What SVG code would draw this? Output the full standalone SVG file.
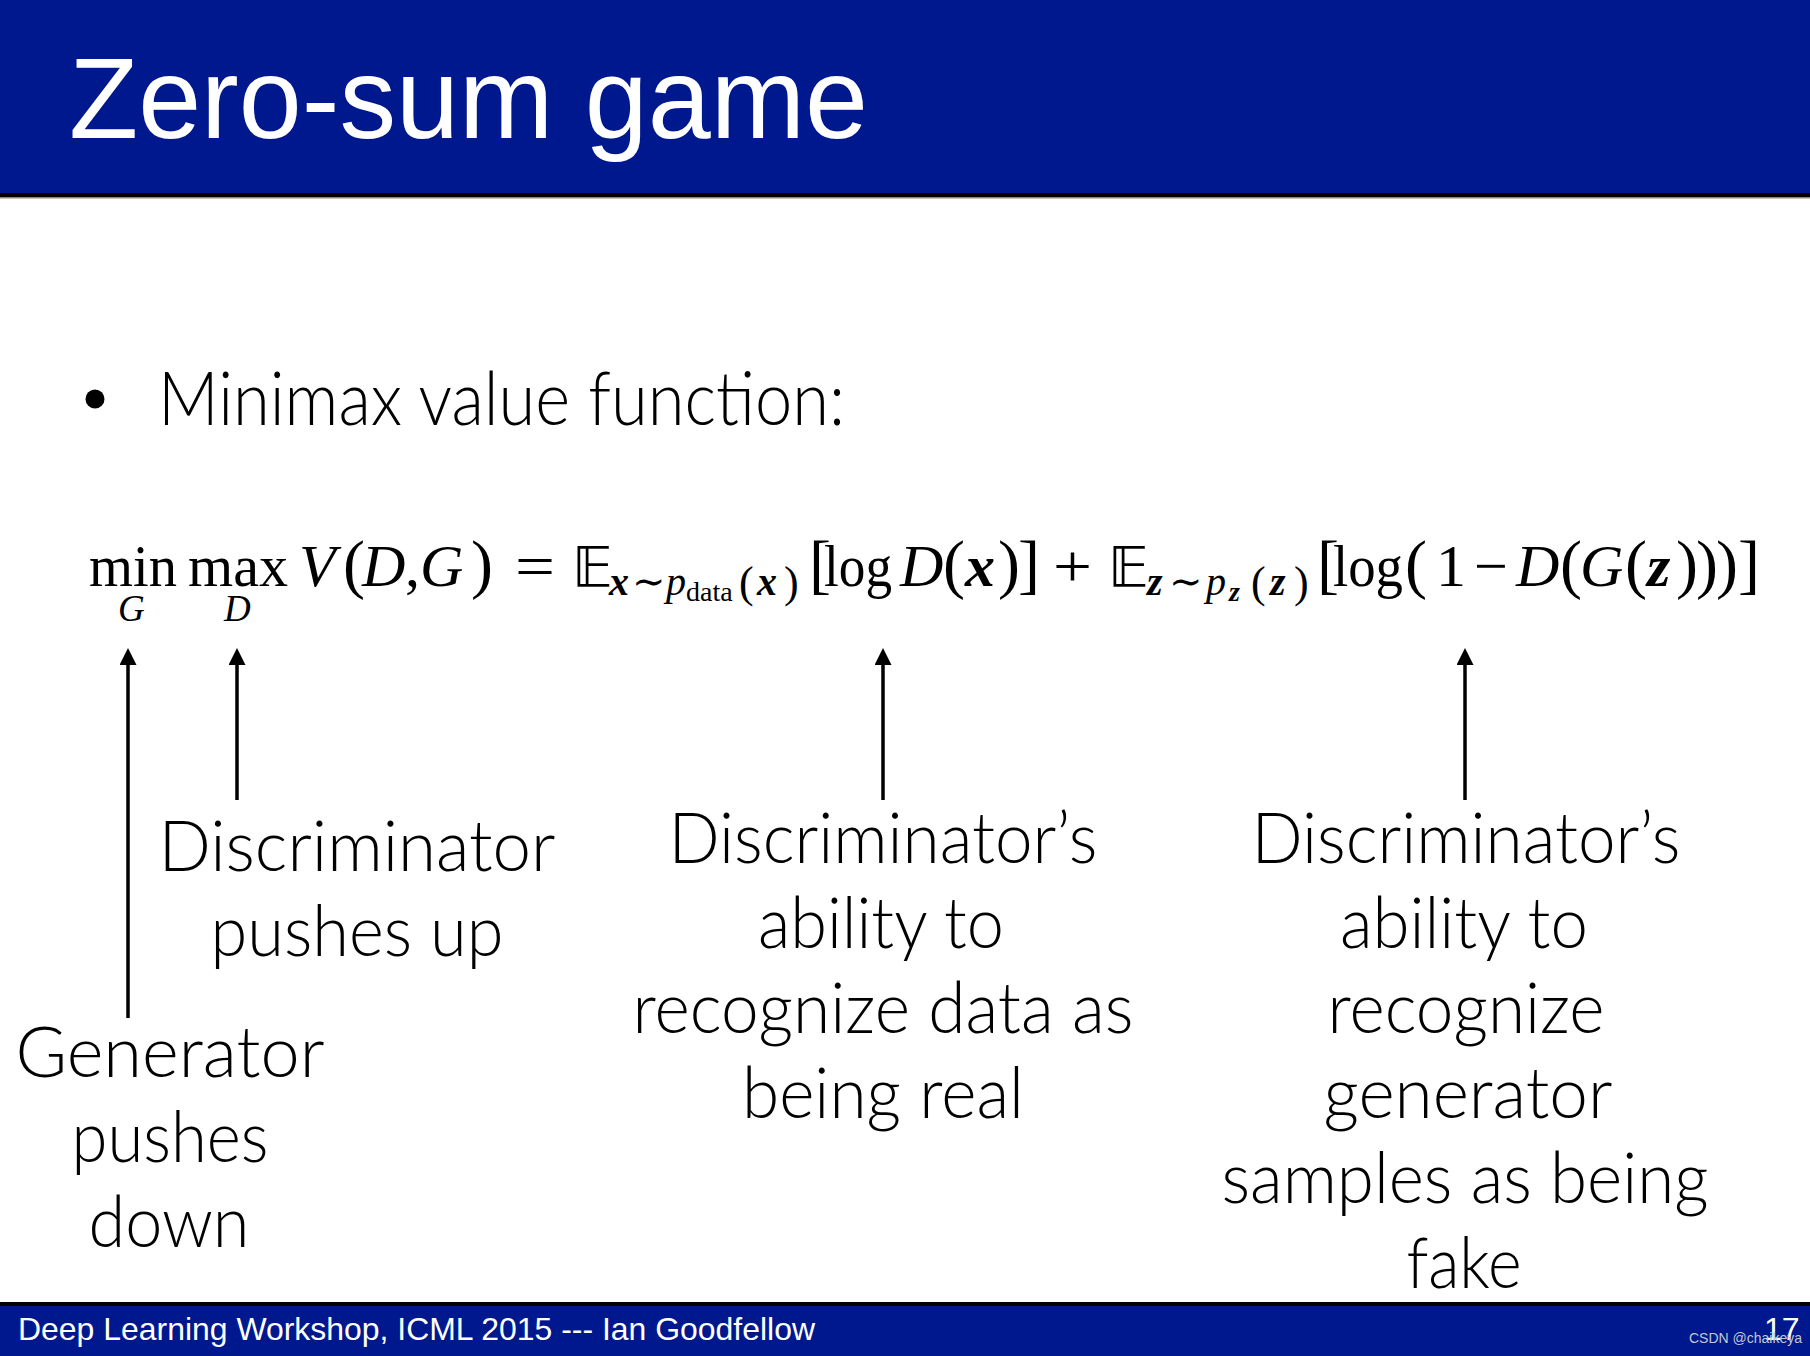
<svg xmlns="http://www.w3.org/2000/svg" width="1810" height="1356" viewBox="0 0 1810 1356">
<defs>
<style>
.bar{fill:#00188e}
.title{font-family:"Liberation Sans",Arial,sans-serif;fill:#fff}
.gs{font-family:Lato,"Open Sans",sans-serif;font-weight:300;fill:#000}
.lbl{font-family:Lato,"Open Sans",sans-serif;font-weight:300;font-size:70px;fill:#000;text-anchor:middle}
.m{font-family:"Liberation Serif","DejaVu Serif",serif;font-size:60px;fill:#000}
.p{font-family:"Liberation Serif","DejaVu Serif",serif;font-size:66px;fill:#000}
.s{font-family:"Liberation Serif","DejaVu Serif",serif;font-size:40px;fill:#000}
.u{font-family:"Liberation Serif","DejaVu Serif",serif;font-size:37px;fill:#000;font-style:italic}
.t{font-family:"DejaVu Serif","Liberation Serif",serif;font-size:40px;fill:#000}
.sp{font-family:"Liberation Serif","DejaVu Serif",serif;font-size:44px;fill:#000}
.ss{font-family:"Liberation Serif","DejaVu Serif",serif;font-size:28px;fill:#000}
.i{font-style:italic}
.bi{font-style:italic;font-weight:bold}
.bb{font-family:"DejaVu Sans","DejaVu Serif","Noto Sans",sans-serif;font-size:56px;fill:#000}
.conn line{stroke:#000;stroke-width:3.5;marker-end:url(#ah)}
</style>
<marker id="ah" viewBox="0 0 17 17" markerWidth="17" markerHeight="17" refX="3" refY="8.5" orient="auto" markerUnits="userSpaceOnUse">
<path d="M0,0 L17,8.5 L0,17 Z" fill="#000"/>
</marker>
</defs>
<rect width="1810" height="1356" fill="#fff"/>
<g id="header">
<rect class="bar" x="0" y="0" width="1810" height="194"/>
<rect x="0" y="193" width="1810" height="4" fill="#000"/>
<rect x="0" y="197" width="1810" height="1.5" fill="#888"/>
<text class="title" x="69" y="138" font-size="115" textLength="799" lengthAdjust="spacingAndGlyphs">Zero-sum game</text>
</g>
<g id="footer">
<rect x="0" y="1302" width="1810" height="4" fill="#000"/>
<rect class="bar" x="0" y="1306" width="1810" height="50"/>
<text class="title" x="18" y="1340" font-size="32" textLength="797" lengthAdjust="spacingAndGlyphs">Deep Learning Workshop, ICML 2015 --- Ian Goodfellow</text>
<text class="title" x="1764" y="1340" font-size="32">17</text>
<text x="1689" y="1343" font-family="Liberation Sans,Arial,sans-serif" font-size="14" fill="#c4c7d0">CSDN @chaikeya</text>
</g>
<g id="bullet">
<circle cx="95" cy="399" r="9.5" fill="#000"/>
<text class="gs" x="158" y="425" font-size="74" textLength="687" lengthAdjust="spacingAndGlyphs">Minimax value function:</text>
</g>
<g id="formula">
<text class="m" x="89" y="586" textLength="88" lengthAdjust="spacingAndGlyphs">min</text>
<text class="u" x="118" y="621">G</text>
<text class="m" x="188" y="586" textLength="100" lengthAdjust="spacingAndGlyphs">max</text>
<text class="u" x="224" y="621">D</text>
<text class="m i" x="299" y="586">V</text>
<text class="p" x="343" y="586">(</text>
<text class="m i" x="362" y="586">D</text>
<text class="m" x="405" y="586">,</text>
<text class="m i" x="420" y="586">G</text>
<text class="p" x="471" y="586">)</text>
<text class="m" x="515" y="586" textLength="40" lengthAdjust="spacingAndGlyphs">=</text>
<text class="bb" x="572" y="586">𝔼</text>
<text class="s bi" x="609" y="595">x</text>
<text class="t" x="632" y="595">∼</text>
<text class="s i" x="666" y="595">p</text>
<text class="ss" x="686" y="601">data</text>
<text class="sp" x="739" y="597">(</text>
<text class="s bi" x="757" y="595">x</text>
<text class="sp" x="784" y="597">)</text>
<text class="p" x="809" y="586">[</text>
<text class="m" x="824" y="586" textLength="68" lengthAdjust="spacingAndGlyphs">log</text>
<text class="m i" x="900" y="586">D</text>
<text class="p" x="943" y="586">(</text>
<text class="m bi" x="965" y="586">x</text>
<text class="p" x="998" y="586">)</text>
<text class="p" x="1018" y="586">]</text>
<text class="m" x="1053" y="586" textLength="39" lengthAdjust="spacingAndGlyphs">+</text>
<text class="bb" x="1108" y="586">𝔼</text>
<text class="s bi" x="1147" y="595">z</text>
<text class="t" x="1169" y="595">∼</text>
<text class="s i" x="1206" y="595">p</text>
<text class="ss bi" x="1229" y="601">z</text>
<text class="sp" x="1251" y="597">(</text>
<text class="s bi" x="1270" y="595">z</text>
<text class="sp" x="1294" y="597">)</text>
<text class="p" x="1317" y="586">[</text>
<text class="m" x="1333" y="586" textLength="70" lengthAdjust="spacingAndGlyphs">log</text>
<text class="p" x="1405" y="586">(</text>
<text class="m" x="1436" y="586">1</text>
<text class="m" x="1474" y="586">−</text>
<text class="m i" x="1516" y="586">D</text>
<text class="p" x="1560" y="586">(</text>
<text class="m i" x="1580" y="586">G</text>
<text class="p" x="1625" y="586">(</text>
<text class="m bi" x="1647" y="586">z</text>
<text class="p" x="1676" y="586">)</text>
<text class="p" x="1696" y="586">)</text>
<text class="p" x="1716" y="586">)</text>
<text class="p" x="1738" y="586">]</text>
</g>
<g id="connectors" class="conn">
<line x1="128" y1="1018" x2="128" y2="662"/>
<line x1="237" y1="800" x2="237" y2="662"/>
<line x1="883" y1="800" x2="883" y2="662"/>
<line x1="1465" y1="800" x2="1465" y2="662"/>
</g>
<g id="label-generator">
<text class="lbl" x="170" y="1077" textLength="309" lengthAdjust="spacingAndGlyphs">Generator</text>
<text class="lbl" x="170" y="1162" textLength="197" lengthAdjust="spacingAndGlyphs">pushes</text>
<text class="lbl" x="169" y="1247" textLength="161" lengthAdjust="spacingAndGlyphs">down</text>
</g>
<g id="label-disc-up">
<text class="lbl" x="357" y="871" textLength="397" lengthAdjust="spacingAndGlyphs">Discriminator</text>
<text class="lbl" x="357" y="956" textLength="293" lengthAdjust="spacingAndGlyphs">pushes up</text>
</g>
<g id="label-real">
<text class="lbl" x="883" y="863" textLength="429" lengthAdjust="spacingAndGlyphs">Discriminator’s</text>
<text class="lbl" x="881" y="948" textLength="246" lengthAdjust="spacingAndGlyphs">ability to</text>
<text class="lbl" x="883" y="1033" textLength="501" lengthAdjust="spacingAndGlyphs">recognize data as</text>
<text class="lbl" x="883" y="1118" textLength="282" lengthAdjust="spacingAndGlyphs">being real</text>
</g>
<g id="label-fake">
<text class="lbl" x="1466" y="863" textLength="429" lengthAdjust="spacingAndGlyphs">Discriminator’s</text>
<text class="lbl" x="1464" y="948" textLength="248" lengthAdjust="spacingAndGlyphs">ability to</text>
<text class="lbl" x="1466" y="1033" textLength="277" lengthAdjust="spacingAndGlyphs">recognize</text>
<text class="lbl" x="1468" y="1118" textLength="289" lengthAdjust="spacingAndGlyphs">generator</text>
<text class="lbl" x="1465" y="1203" textLength="487" lengthAdjust="spacingAndGlyphs">samples as being</text>
<text class="lbl" x="1464" y="1288" textLength="115" lengthAdjust="spacingAndGlyphs">fake</text>
</g>
</svg>
